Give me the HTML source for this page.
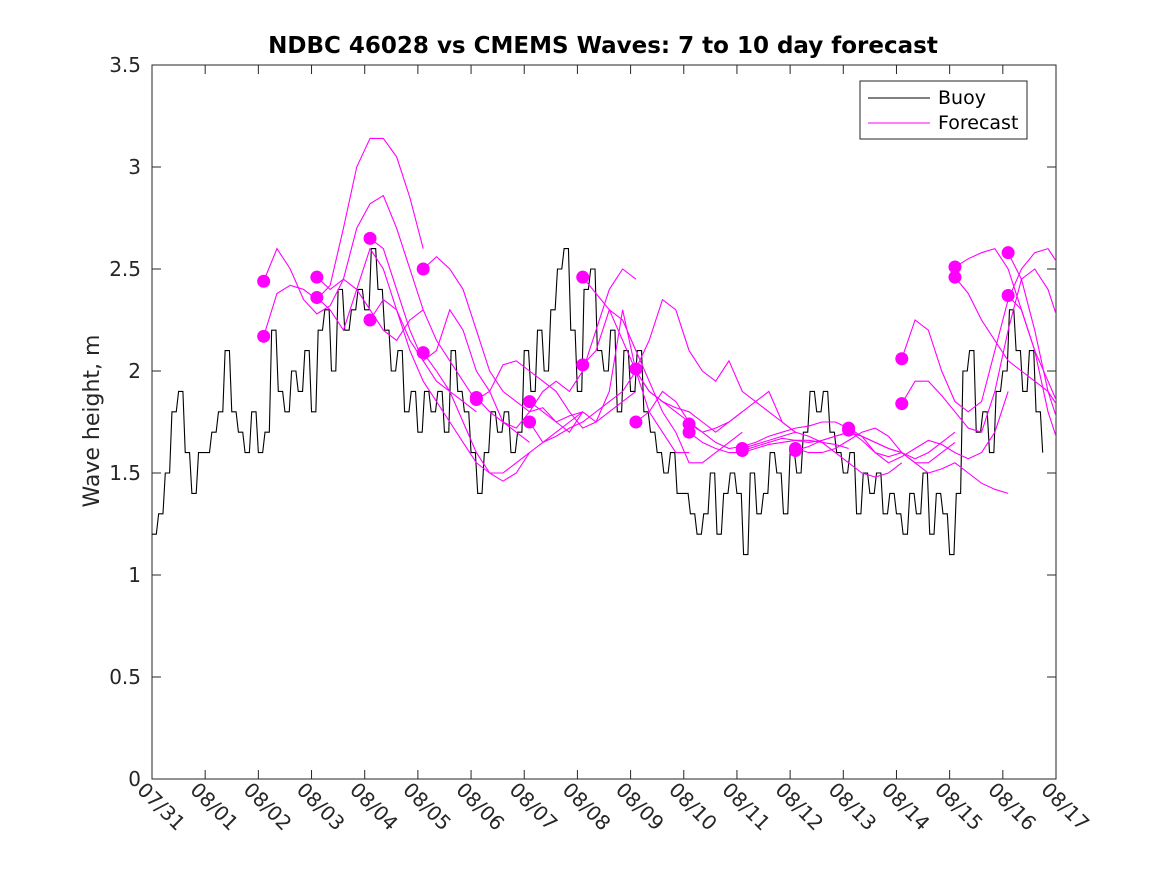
<!DOCTYPE html>
<html><head><meta charset="utf-8"><style>
body{margin:0;background:#fff;}
svg text{font-family:"DejaVu Sans","Liberation Sans",sans-serif;}
</style></head><body>
<svg id="chart" width="1167" height="875" xmlns="http://www.w3.org/2000/svg">
<rect x="0" y="0" width="1167" height="875" fill="#fff"/>
<rect x="152" y="65" width="904" height="714" fill="#fff" stroke="#262626" stroke-width="1"/>
<defs><clipPath id="clip"><rect x="152" y="65" width="904" height="714"/></clipPath></defs>
<g id="axes"></g>
<g id="series" clip-path="url(#clip)"></g>
<text x="603" y="53" text-anchor="middle" font-size="23" font-weight="bold" fill="#000">NDBC 46028 vs CMEMS Waves: 7 to 10 day forecast</text>
<text transform="translate(99,421) rotate(-90)" text-anchor="middle" font-size="22" fill="#262626">Wave height, m</text>
<g>
<rect x="860" y="81" width="167" height="58" fill="#fff" stroke="#262626"/>
<line x1="868" y1="98" x2="930" y2="98" stroke="#000"/>
<text x="938" y="104" font-size="19" fill="#000">Buoy</text>
<line x1="868" y1="123" x2="930" y2="123" stroke="#f0f"/>
<text x="938" y="129" font-size="19" fill="#000">Forecast</text>
</g>
</svg>
<script>
const xTickLabels=["07/31","08/01","08/02","08/03","08/04","08/05","08/06","08/07","08/08","08/09","08/10","08/11","08/12","08/13","08/14","08/15","08/16","08/17"];
const yTicks=[0,0.5,1,1.5,2,2.5,3,3.5];
const yTickLabels=["0","0.5","1","1.5","2","2.5","3","3.5"];
const buoyStep=0.125;
const buoyVals=[1.2,1.3,1.5,1.8,1.9,1.6,1.4,1.6,
1.6,1.7,1.8,2.1,1.8,1.7,1.6,1.8,
1.6,1.7,2.2,1.9,1.8,2.0,1.9,2.1,
1.8,2.2,2.3,2.0,2.4,2.2,2.3,2.4,
2.3,2.6,2.4,2.2,2.0,2.1,1.8,1.9,
1.7,1.9,1.8,1.9,1.7,2.1,1.9,1.8,
1.6,1.4,1.6,1.8,1.7,1.8,1.6,1.7,
2.1,1.9,2.2,2.0,2.3,2.5,2.6,2.2,
1.9,2.4,2.5,2.1,2.0,2.2,1.8,2.1,
1.9,2.1,1.8,1.7,1.6,1.5,1.6,1.4,
1.4,1.3,1.2,1.3,1.5,1.2,1.4,1.5,
1.4,1.1,1.5,1.3,1.4,1.6,1.5,1.3,
1.6,1.5,1.7,1.9,1.8,1.9,1.7,1.6,
1.5,1.6,1.3,1.5,1.4,1.5,1.3,1.4,
1.3,1.2,1.4,1.3,1.5,1.2,1.4,1.3,
1.1,1.4,2.0,2.1,1.7,1.8,1.6,1.9,
2.0,2.3,2.1,1.9,2.1,1.8,1.6];
const fcStep=0.25;
const runStarts=[2.1,2.1,3.1,3.1,4.1,4.1,5.1,5.1,6.1,6.1,7.1,7.1,8.1,8.1,9.1,9.1,10.1,10.1,11.1,11.1,12.1,12.1,13.1,13.1,14.1,14.1,15.1,15.1,16.1,16.1];
const runVals=[
[2.44,2.6,2.5,2.35,2.28,2.32,2.45,2.4,2.3,2.2,2.15,2.25,2.3],
[2.17,2.38,2.42,2.4,2.35,2.42,2.7,3.0,3.14,3.14,3.05,2.85,2.6],
[2.46,2.4,2.45,2.7,2.82,2.86,2.7,2.5,2.3,2.15,2.05,1.95,1.85],
[2.36,2.3,2.2,2.4,2.6,2.5,2.3,2.15,2.05,1.95,1.9,1.85,1.8],
[2.65,2.6,2.4,2.2,2.05,2.1,2.3,2.2,2.0,1.9,1.75,1.7,1.65],
[2.25,2.35,2.3,2.1,1.95,1.85,1.75,1.65,1.55,1.5,1.5,1.55,1.6],
[2.5,2.56,2.5,2.4,2.2,2.0,1.9,1.85,1.8,1.82,1.75,1.7,1.8],
[2.09,2.0,1.9,1.75,1.6,1.5,1.46,1.5,1.6,1.65,1.7,1.75,1.8],
[1.87,1.8,1.75,1.72,1.8,1.9,1.95,1.9,2.0,2.2,2.4,2.5,2.45],
[1.86,1.9,2.03,2.05,2.0,1.95,1.9,1.8,1.72,1.75,1.8,1.85,1.9],
[1.85,1.8,1.75,1.78,1.8,1.75,1.9,2.3,2.0,1.8,1.7,1.6,1.6],
[1.75,1.65,1.68,1.72,1.75,1.8,1.85,1.9,2.0,1.9,1.85,1.8,1.75],
[2.46,2.38,2.3,2.15,2.0,1.9,1.85,1.82,1.8,1.75,1.7,1.75,1.8],
[2.03,2.1,2.3,2.25,2.1,1.95,1.8,1.7,1.55,1.55,1.6,1.65,1.7],
[2.01,2.15,2.35,2.3,2.1,2.0,1.95,2.05,1.9,1.85,1.8,1.75,1.7],
[1.75,1.8,1.9,1.85,1.75,1.7,1.72,1.75,1.8,1.85,1.9,1.75,1.7],
[1.74,1.7,1.65,1.62,1.63,1.65,1.68,1.7,1.72,1.73,1.75,1.75,1.72],
[1.70,1.65,1.62,1.6,1.6,1.62,1.64,1.65,1.66,1.66,1.65,1.64,1.62],
[1.62,1.64,1.66,1.68,1.7,1.68,1.65,1.6,1.55,1.5,1.48,1.5,1.55],
[1.61,1.63,1.65,1.67,1.66,1.65,1.66,1.68,1.7,1.68,1.65,1.62,1.6],
[1.62,1.6,1.6,1.62,1.66,1.7,1.72,1.68,1.6,1.57,1.6,1.65,1.7],
[1.61,1.63,1.66,1.68,1.7,1.68,1.65,1.62,1.6,1.55,1.55,1.6,1.65],
[1.72,1.68,1.6,1.55,1.58,1.62,1.66,1.64,1.6,1.57,1.6,1.7,1.9],
[1.71,1.66,1.6,1.58,1.6,1.55,1.5,1.52,1.55,1.5,1.45,1.42,1.4],
[2.06,2.25,2.2,2.0,1.85,1.8,1.85,2.1,2.35,2.5,2.58,2.6,2.5],
[1.84,1.95,1.95,1.88,1.8,1.72,1.7,1.9,2.2,2.45,2.5,2.4,2.2],
[2.51,2.55,2.58,2.6,2.5,2.3,2.1,1.95,1.8,1.65,1.62,1.65,1.8],
[2.46,2.38,2.25,2.15,2.05,2.0,1.95,1.9,1.8,1.7,1.6,1.5,1.45],
[2.58,2.45,2.2,1.9,1.7,1.6,1.6,1.68],
[2.37,2.3,2.1,1.8,1.6,1.5,1.45,1.5]];

const X0=152,X1=1056,Y0=779,Y1=65,XMAX=17,YMAX=3.5;
const xs=d=>X0+(X1-X0)*d/XMAX;
const ys=v=>Y0-(Y0-Y1)*v/YMAX;
const NS="http://www.w3.org/2000/svg";
const axes=document.getElementById('axes'),series=document.getElementById('series');
function mk(tag,attrs,parent){const e=document.createElementNS(NS,tag);for(const k in attrs)e.setAttribute(k,attrs[k]);parent.appendChild(e);return e;}
xTickLabels.forEach((lab,i)=>{
  const x=xs(i);
  const t1=mk('line',{x1:x,y1:Y0,x2:x,y2:Y0-9,stroke:'#262626'},axes);
  
  
  const t2=mk('line',{x1:x,y1:Y1,x2:x,y2:Y1+9,stroke:'#262626'},axes);
  
  
  const tx=mk('text',{x:0,y:0,'font-size':20,fill:'#262626',transform:`translate(${x-16},${Y0+12}) rotate(45)`},axes);
  tx.textContent=lab;
  
  
});
yTicks.forEach((v,i)=>{
  const y=ys(v);
  const t1=mk('line',{x1:X0,y1:y,x2:X0+9,y2:y,stroke:'#262626'},axes);
  
  
  const t2=mk('line',{x1:X1,y1:y,x2:X1-9,y2:y,stroke:'#262626'},axes);
  
  
  const tx=mk('text',{x:X0-11,y:y+7,'font-size':20,fill:'#262626','text-anchor':'end'},axes);
  tx.textContent=yTickLabels[i];
  
  
});
let d='';
buoyVals.forEach((v,i)=>{const x=xs(i*buoyStep),y=ys(v);
  if(i===0)d+=`M${x},${y}`;else{const px=xs((i-0.35)*buoyStep);d+=`L${px},${ys(buoyVals[i-1])}L${x},${y}`;}});
const bl=mk('path',{d:d,fill:'none',stroke:'#000','stroke-width':1.1},series);


runVals.forEach((vals,r)=>{
  const pts=vals.map((v,i)=>xs(runStarts[r]+i*fcStep)+','+ys(v)).join(' ');
  const pl=mk('polyline',{points:pts,fill:'none',stroke:'#f0f','stroke-width':1.1},series);
  
  
});
runVals.forEach((vals,r)=>{
  const c=mk('circle',{cx:xs(runStarts[r]),cy:ys(vals[0]),r:6.5,fill:'#f0f'},series);
  
  
});
</script>
</body></html>
